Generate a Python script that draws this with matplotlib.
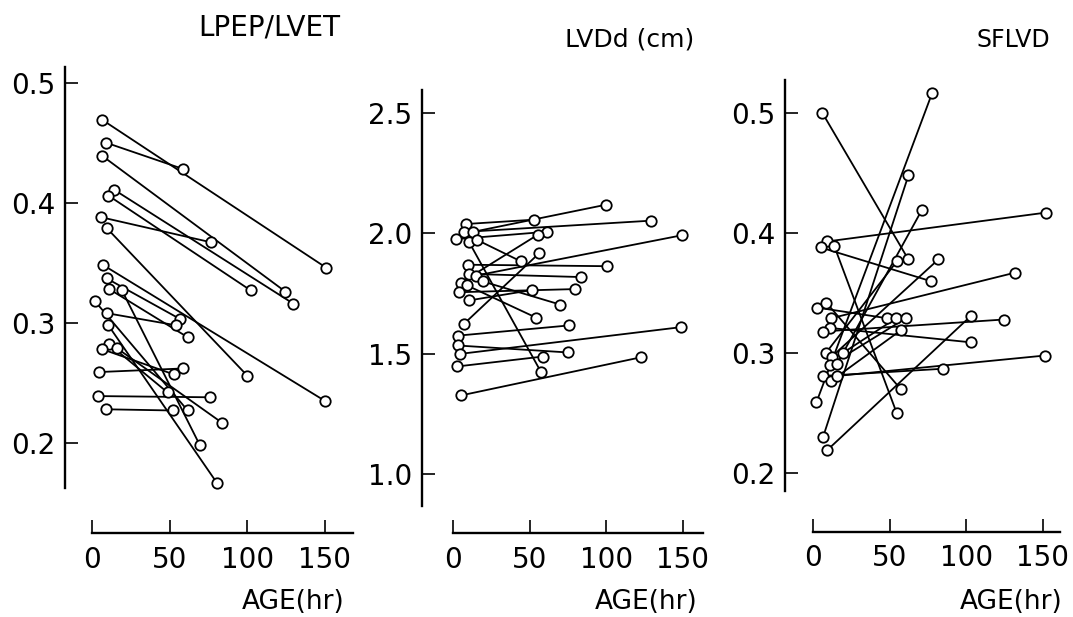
import matplotlib
matplotlib.use('Agg')
import matplotlib.pyplot as plt

# LPEP/LVET: first and second measurement (age in hr, value)
lpep_t0 = [6.6, 9.0, 6.6, 14.0, 10.5, 5.6, 9.4, 7.3, 9.4, 11.2, 19.3, 1.9, 9.7, 10.5, 11.2, 15.9, 6.6, 4.3, 4.1, 9.0]
lpep_v0 = [0.469, 0.450, 0.439, 0.411, 0.406, 0.388, 0.379, 0.348, 0.337, 0.328,
           0.327, 0.318, 0.308, 0.298, 0.282, 0.279, 0.278, 0.259, 0.239, 0.228]
lpep_t1 = [150.7, 58.8, 124.5, 129.6, 102.2, 76.8, 100.0, 150.0, 56.9, 61.6,
           69.5, 61.6, 53.9, 80.3, 48.7, 83.5, 52.8, 58.8, 75.8, 52.2]
lpep_v1 = [0.346, 0.428, 0.326, 0.316, 0.327, 0.367, 0.256, 0.235, 0.303, 0.288,
           0.198, 0.227, 0.298, 0.167, 0.242, 0.217, 0.257, 0.262, 0.238, 0.227]

# LVDd (cm)
lvdd_t0 = [8.5, 7.1, 12.8, 1.7, 10.6, 15.4, 9.5, 10.6, 15.0, 5.2, 8.9, 19.3, 3.9, 10.6, 7.4, 3.5, 3.0, 4.5, 2.8, 5.4]
lvdd_v0 = [2.039, 2.006, 2.006, 1.976, 1.963, 1.974, 1.870, 1.832, 1.825, 1.796,
           1.785, 1.801, 1.756, 1.722, 1.626, 1.576, 1.535, 1.500, 1.448, 1.328]
lvdd_t1 = [53.0, 129.5, 99.8, 61.5, 57.6, 44.3, 100.2, 83.2, 149.1, 55.2,
           54.1, 69.8, 79.5, 51.5, 56.1, 75.4, 75.2, 148.7, 58.5, 122.6]
lvdd_v1 = [2.057, 2.053, 2.119, 2.007, 1.423, 1.884, 1.864, 1.819, 1.992, 1.994,
           1.651, 1.705, 1.769, 1.765, 1.917, 1.618, 1.506, 1.611, 1.489, 1.486]

# SFLVD
sf_t0 = [6.1, 9.1, 5.0, 13.9, 2.4, 8.7, 11.7, 10.9, 6.3, 8.3, 12.2, 19.3, 10.9, 15.6, 6.7, 12.0, 15.9, 2.2, 6.5, 9.1]
sf_v0 = [0.500, 0.393, 0.388, 0.389, 0.338, 0.342, 0.329, 0.321, 0.318, 0.300,
         0.297, 0.300, 0.290, 0.291, 0.281, 0.277, 0.281, 0.259, 0.230, 0.219]
sf_t1 = [62.2, 151.7, 76.7, 54.6, 48.5, 57.2, 131.7, 102.8, 124.6, 55.0,
         81.7, 54.1, 60.4, 70.9, 85.0, 57.2, 151.3, 77.8, 62.2, 103.0]
sf_v1 = [0.378, 0.417, 0.360, 0.250, 0.329, 0.270, 0.367, 0.309, 0.328, 0.377,
         0.378, 0.329, 0.329, 0.419, 0.287, 0.319, 0.298, 0.517, 0.448, 0.331]

titles = ['LPEP/LVET', 'LVDd (cm)', 'SFLVD']
yticks = [[0.2, 0.3, 0.4, 0.5], [1.0, 1.5, 2.0, 2.5], [0.2, 0.3, 0.4, 0.5]]
xticks = [0, 50, 100, 150]

W, H = 1073, 617
plt.rcParams['font.family'] = ['DejaVu Sans']
fig = plt.figure(figsize=(W / 100, H / 100), dpi=100)

def px_axes(left, right, top, bottom):
    return fig.add_axes([left / W, 1 - bottom / H, (right - left) / W, (bottom - top) / H])

# axes boxes in pixels, limits and spine ends
panels = [
    dict(box=(65, 353, 67, 533), xlim=(-17.4, 168.1), ylim=(0.125, 0.513), ybot=0.1625,
         data=(lpep_t0, lpep_v0, lpep_t1, lpep_v1)),
    dict(box=(422, 703, 90, 533), xlim=(-20.2, 163.1), ylim=(0.757, 2.595), ybot=0.87,
         data=(lvdd_t0, lvdd_v0, lvdd_t1, lvdd_v1)),
    dict(box=(785, 1060, 80, 532), xlim=(-18.3, 161.1), ylim=(0.151, 0.5275), ybot=0.185,
         data=(sf_t0, sf_v0, sf_t1, sf_v1)),
]

for i, p in enumerate(panels):
    ax = px_axes(*p['box'])
    t0, v0, t1, v1 = p['data']
    for a, b, c, d in zip(t0, v0, t1, v1):
        ax.plot([a, c], [b, d], color='black', lw=1.3, zorder=2)
    ax.plot(t0 + t1, v0 + v1, 'o', ms=7.5, mfc='white', mec='black', mew=1.3, zorder=3, clip_on=False)
    ax.set_xlim(*p['xlim'])
    ax.set_ylim(*p['ylim'])
    ax.spines['top'].set_visible(False)
    ax.spines['right'].set_visible(False)
    ax.spines['left'].set_linewidth(1.7)
    ax.spines['bottom'].set_linewidth(1.7)
    ax.spines['left'].set_bounds(p['ybot'], p['ylim'][1])
    ax.spines['bottom'].set_bounds(0, p['xlim'][1])
    ax.set_xticks(xticks)
    ax.set_xticklabels([str(x) for x in xticks])
    ax.set_yticks(yticks[i])
    ax.set_yticklabels(['%.1f' % y for y in yticks[i]])
    ax.tick_params(axis='both', direction='in', length=9.5, width=1.2, labelsize=20)
    ax.tick_params(axis='x', pad=9)
    ax.tick_params(axis='y', pad=7)
    ax.patch.set_alpha(0)

# titles and axis labels
fig.text(269 / W, 1 - 28 / H, titles[0], ha='center', va='center', fontsize=20)
fig.text(630 / W, 1 - 40 / H, titles[1], ha='center', va='center', fontsize=18)
fig.text(1013 / W, 1 - 40 / H, titles[2], ha='center', va='center', fontsize=17)
for xr in [345, 698, 1063]:
    fig.text(xr / W, 1 - 602 / H, 'AGE(hr)', ha='right', va='center', fontsize=19)

fig.savefig('out.png', dpi=100, facecolor='white')
